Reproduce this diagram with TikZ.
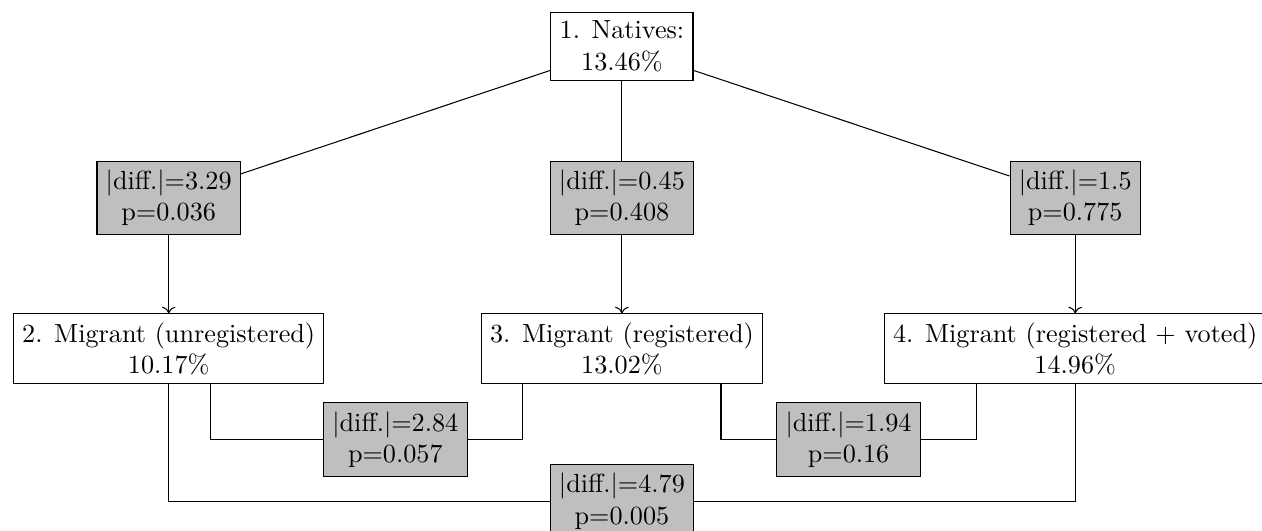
\documentclass[tikz,border=0pt]{standalone}
\usepackage{tikz}
\usetikzlibrary{positioning, arrows.meta}

\begin{document}
\begin{tikzpicture}[
    group/.style={draw, align=center},
    test/.style={draw, fill=gray!50, align=center}
]
    \useasboundingbox (-237.4pt,-184.9pt) rectangle (244.3pt,17.75pt);

    % Groups
    \node[group] (nat) at (0,0) {1. Natives:\\13.46\%};
    \node[group] (unreg) at (-173pt,-115.4pt) {2. Migrant (unregistered)\\10.17\%};
    \node[group] (reg) at (0,-115.4pt) {3. Migrant (registered)\\13.02\%};
    \node[group] (voted) at (173pt,-115.4pt) {4. Migrant (registered + voted)\\14.96\%};

    % Tests against natives
    \foreach \n/\x/\d/\p in {unreg/-173/3.29/0.036, reg/0/0.45/0.408, voted/173/1.5/0.775} {
        \node[test] (t\n) at (\x pt,-57.8pt) {|diff.|=\d\\p=\p};
        \draw (nat) -- (t\n);
        \draw[->] (t\n) -- (\n);
    }

    % Tests between migrant groups
    \node[test] (tunrreg) at (-86.5pt,-150pt) {|diff.|=2.84\\p=0.057};
    \node[test] (tregvot) at (86.5pt,-150pt) {|diff.|=1.94\\p=0.16};
    \node[test] (tunrvot) at (0,-173.5pt) {|diff.|=4.79\\p=0.005};

    \draw ([xshift=16pt]unreg.south) |- (tunrreg.west);
    \draw ([xshift=-37.8pt]reg.south) |- (tunrreg.east);
    \draw ([xshift=37.8pt]reg.south) |- (tregvot.west);
    \draw ([xshift=-37.8pt]voted.south) |- (tregvot.east);
    \draw (unreg.south) |- (tunrvot.west);
    \draw (voted.south) |- (tunrvot.east);
\end{tikzpicture}
\end{document}
